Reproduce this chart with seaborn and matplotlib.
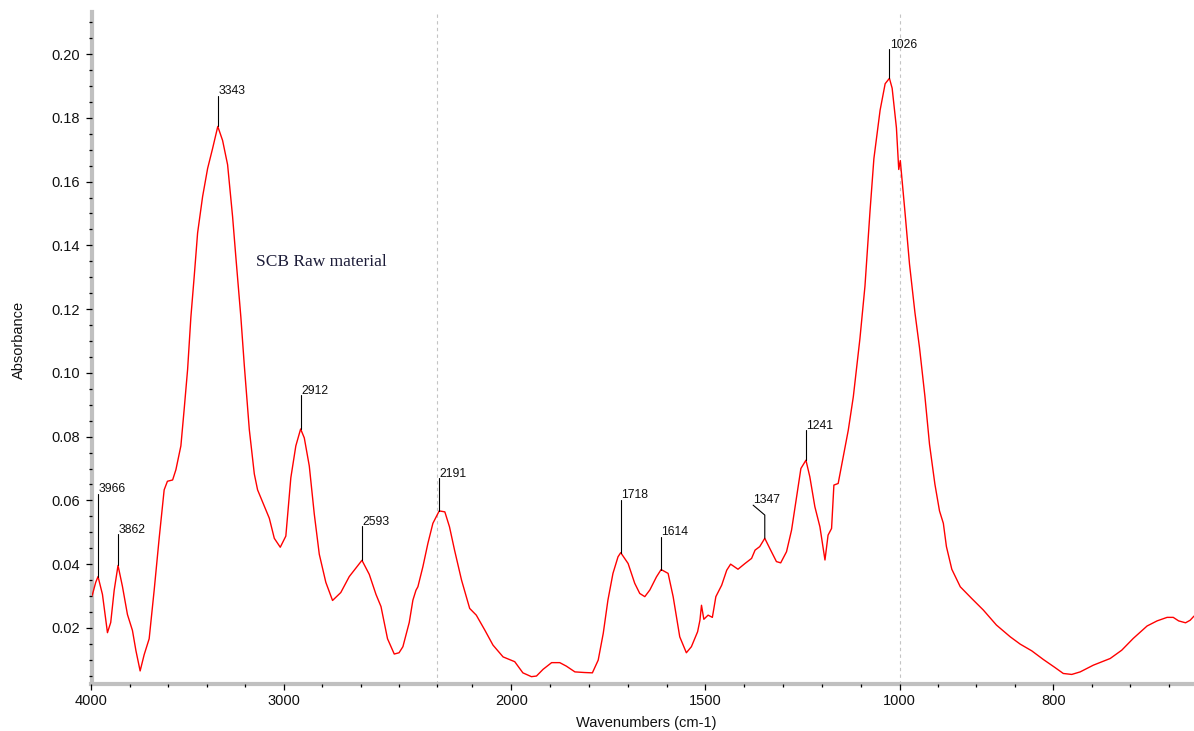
import numpy as np
import pandas as pd
import matplotlib
matplotlib.use("Agg")
import matplotlib.pyplot as plt
import seaborn as sns
from matplotlib.ticker import FixedLocator, FixedFormatter, NullFormatter

# ---------------- data ----------------
wavenumber = [4000, 3995, 3978, 3966, 3943, 3917, 3900, 3882, 3862, 3839, 3813, 3787, 3769, 3747,
              3726, 3700, 3674, 3648, 3622, 3605, 3578, 3561, 3535, 3518, 3500, 3483, 3466, 3448,
              3422, 3396, 3370, 3343, 3318, 3292, 3266, 3249, 3223, 3205, 3179, 3153, 3136, 3101,
              3075, 3049, 3018, 2989, 2963, 2937, 2912, 2893, 2867, 2841, 2815, 2781, 2746, 2703,
              2659, 2633, 2593, 2555, 2520, 2494, 2460, 2425, 2400, 2380, 2362, 2347, 2328, 2312,
              2302, 2276, 2250, 2224, 2191, 2171, 2159, 2146, 2128, 2107, 2090, 2068, 2047, 2021,
              1991, 1970, 1948, 1935, 1918, 1896, 1875, 1858, 1836, 1811, 1791, 1776, 1763, 1751,
              1738, 1725, 1718, 1699, 1682, 1669, 1656, 1643, 1626, 1614, 1596, 1583, 1566, 1549,
              1536, 1520, 1514, 1510, 1504, 1493, 1482, 1473, 1458, 1445, 1435, 1416, 1398, 1381,
              1372, 1360, 1347, 1334, 1317, 1306, 1291, 1278, 1265, 1254, 1241, 1231, 1218, 1205,
              1192, 1184, 1175, 1169, 1158, 1145, 1132, 1119, 1102, 1089, 1076, 1066, 1050, 1037,
              1026, 1019, 1008, 1002, 999, 993, 987, 980, 974, 967, 961, 954, 948, 943, 939, 932,
              921, 906, 891, 874, 856, 843, 828, 813, 798, 787, 776, 765, 748, 726, 711, 696, 678,
              665, 652, 644, 637, 628, 622, 617]
absorbance = [0.0298, 0.0305, 0.0343, 0.0361, 0.0305, 0.0185, 0.0217, 0.0318, 0.0396, 0.0330,
              0.0242, 0.0192, 0.0129, 0.0065, 0.0116, 0.0166, 0.0318, 0.0481, 0.0633, 0.0660,
              0.0664, 0.0696, 0.0771, 0.0885, 0.1011, 0.1175, 0.1300, 0.1439, 0.1553, 0.1641,
              0.1704, 0.1773, 0.1729, 0.1653, 0.1490, 0.1363, 0.1175, 0.1023, 0.0822, 0.0683,
              0.0633, 0.0582, 0.0544, 0.0481, 0.0453, 0.0488, 0.0671, 0.0771, 0.0824, 0.0796,
              0.0708, 0.0557, 0.0431, 0.0343, 0.0286, 0.0311, 0.0361, 0.0381, 0.0412, 0.0368,
              0.0305, 0.0267, 0.0166, 0.0118, 0.0122, 0.0141, 0.0183, 0.0217, 0.0287, 0.0318,
              0.0329, 0.0392, 0.0465, 0.0528, 0.0567, 0.0564, 0.0517, 0.0444, 0.0350, 0.0261,
              0.0240, 0.0193, 0.0146, 0.0109, 0.0094, 0.0059, 0.0047, 0.0049, 0.0070, 0.0091,
              0.0091, 0.0080, 0.0062, 0.0060, 0.0059, 0.0099, 0.0183, 0.0287, 0.0371, 0.0423,
              0.0436, 0.0402, 0.0340, 0.0308, 0.0298, 0.0319, 0.0360, 0.0383, 0.0371, 0.0298,
              0.0172, 0.0122, 0.0141, 0.0188, 0.0224, 0.0271, 0.0227, 0.0240, 0.0233, 0.0298,
              0.0334, 0.0381, 0.0400, 0.0384, 0.0402, 0.0418, 0.0444, 0.0455, 0.0481, 0.0449,
              0.0408, 0.0404, 0.0439, 0.0507, 0.0611, 0.0700, 0.0726, 0.0674, 0.0580, 0.0517,
              0.0413, 0.0491, 0.0512, 0.0648, 0.0653, 0.0737, 0.0820, 0.0925, 0.1107, 0.1272,
              0.1507, 0.1672, 0.1824, 0.1907, 0.1924, 0.1893, 0.1769, 0.1638, 0.1666, 0.1507,
              0.1341, 0.1190, 0.1079, 0.0927, 0.0776, 0.0651, 0.0567, 0.0528, 0.0455, 0.0384,
              0.0329, 0.0292, 0.0256, 0.0209, 0.0172, 0.0149, 0.0128, 0.0101, 0.0076, 0.0057,
              0.0054, 0.0062, 0.0083, 0.0104, 0.0130, 0.0167, 0.0206, 0.0222, 0.0233, 0.0233,
              0.0222, 0.0216, 0.0224, 0.0237]

peak_wn = [3966, 3862, 3343, 2912, 2593, 2191, 1718, 1614, 1347, 1241, 1026]
peak_abs = [0.0361, 0.0396, 0.1773, 0.0824, 0.0412, 0.0567, 0.0436, 0.0383, 0.0481, 0.0726, 0.1924]
peak_text = ["3966", "3862", "3343", "2912", "2593", "2191", "1718", "1614", "1347", "1241", "1026"]

xtick_values = [4000, 3000, 2000, 1500, 1000, 800]
xtick_labels = ["4000", "3000", "2000", "1500", "1000", "800"]
ytick_values = [0.02, 0.04, 0.06, 0.08, 0.10, 0.12, 0.14, 0.16, 0.18, 0.20]
ytick_labels = ["0.02", "0.04", "0.06", "0.08", "0.10", "0.12", "0.14", "0.16", "0.18", "0.20"]

# layout: top of each peak marker line (in absorbance units)
label_top = [0.0620, 0.0494, 0.1870, 0.0929, 0.0519, 0.0669, 0.0601, 0.0486, 0.0554, 0.0820, 0.2015]

df = pd.DataFrame({"Wavenumber": wavenumber, "Absorbance": absorbance})

# ---------------- style ----------------
sns.set_theme(style="white")
plt.rcParams["font.family"] = ["Liberation Sans", "DejaVu Sans"]

# piecewise-linear (expanded) wavenumber axis
B1, R2, R3 = 2180.0, 2.02, 4.0
G1000 = B1 - (B1 - 1000.0) * R2


def fwd(v):
    v = np.asarray(v, dtype=float)
    return np.where(v >= B1, v,
                    np.where(v >= 1000.0, B1 - (B1 - v) * R2, G1000 - (1000.0 - v) * R3))


def inv(g):
    g = np.asarray(g, dtype=float)
    return np.where(g >= B1, g,
                    np.where(g >= G1000, B1 - (B1 - g) / R2, 1000.0 - (G1000 - g) / R3))


W, H = 1194, 731
fig = plt.figure(figsize=(W / 100, H / 100), dpi=100)
L, R, T, Bt = 91.5, 1194.0, 12.0, 684.0
ax = fig.add_axes([L / W, 1 - Bt / H, (R - L) / W, (Bt - T) / H])

sns.lineplot(data=df, x="Wavenumber", y="Absorbance", sort=False, estimator=None,
             color="#ff0000", linewidth=1.0, ax=ax, zorder=3)

ax.set_xscale("function", functions=(fwd, inv))
ax.set_xlim(4000, 617)
ax.set_ylim(0.0024, 0.2132)

# dashed scale-change lines
for xv in (2200, 1000):
    ax.axvline(xv, color="#c4c4c4", lw=0.8, ls=(0, (3, 3)), zorder=1)

# spines
for s in ("top", "right"):
    ax.spines[s].set_visible(False)
for s in ("left", "bottom"):
    ax.spines[s].set_color("#c0c0c0")
    ax.spines[s].set_linewidth(3.0)
ax.set_axisbelow(False)

# ticks
x_minor = [3800, 3600, 3400, 3200, 2800, 2600, 2400, 2200, 2100, 1900, 1800, 1700, 1600,
           1400, 1300, 1200, 1100, 950, 900, 850, 750, 700, 650]
ax.xaxis.set_major_locator(FixedLocator(xtick_values))
ax.xaxis.set_major_formatter(FixedFormatter(xtick_labels))
ax.xaxis.set_minor_locator(FixedLocator(x_minor))
ax.xaxis.set_minor_formatter(NullFormatter())
ax.yaxis.set_major_locator(FixedLocator(ytick_values))
ax.yaxis.set_major_formatter(FixedFormatter(ytick_labels))
ax.yaxis.set_minor_locator(FixedLocator(np.arange(0.005, 0.2126, 0.005)))
ax.yaxis.set_minor_formatter(NullFormatter())
ax.tick_params(which="major", length=4.3, width=0.9, color="black", direction="out",
               labelsize=10.5, pad=2.8, labelcolor="#111111")
ax.tick_params(axis="y", which="major", pad=3.8)
ax.tick_params(which="minor", length=2.5, width=0.9, color="black", direction="out")
ax.tick_params(axis="x", which="both", bottom=True)
ax.tick_params(axis="y", which="both", left=True)

ax.set_xlabel("Wavenumbers (cm-1)", fontsize=10.5, color="#111111")
ax.set_ylabel("Absorbance", fontsize=10.5, color="#111111")
ax.xaxis.set_label_coords((646.5 - L) / (R - L), -(715.5 - Bt) / (Bt - T))
ax.yaxis.set_label_coords((26.0 - L) / (R - L), (Bt - 340.0) / (Bt - T))

# peak markers
for wn, a, top, txt in zip(peak_wn, peak_abs, label_top, peak_text):
    if txt == "1347":
        ax.plot([wn, wn, 1377], [a, top, top + 0.0031], color="black", lw=0.8, zorder=4)
        tx, ty = 1377, top + 0.0031
    else:
        ax.plot([wn, wn], [a, top], color="black", lw=0.8, zorder=4)
        tx, ty = wn, top
    ax.annotate(txt, xy=(tx, ty), xytext=(0.3, 1.2), textcoords="offset points",
                ha="left", va="baseline", fontsize=8.8, color="#111111", zorder=5)

ax.text((256 - L) / (R - L), (Bt - 262) / (Bt - T), "SCB Raw material",
        transform=ax.transAxes, ha="left", va="center", fontsize=12.5,
        family=["Liberation Serif", "DejaVu Serif"], color="#1c1c38")

fig.savefig("out.png", dpi=100)
